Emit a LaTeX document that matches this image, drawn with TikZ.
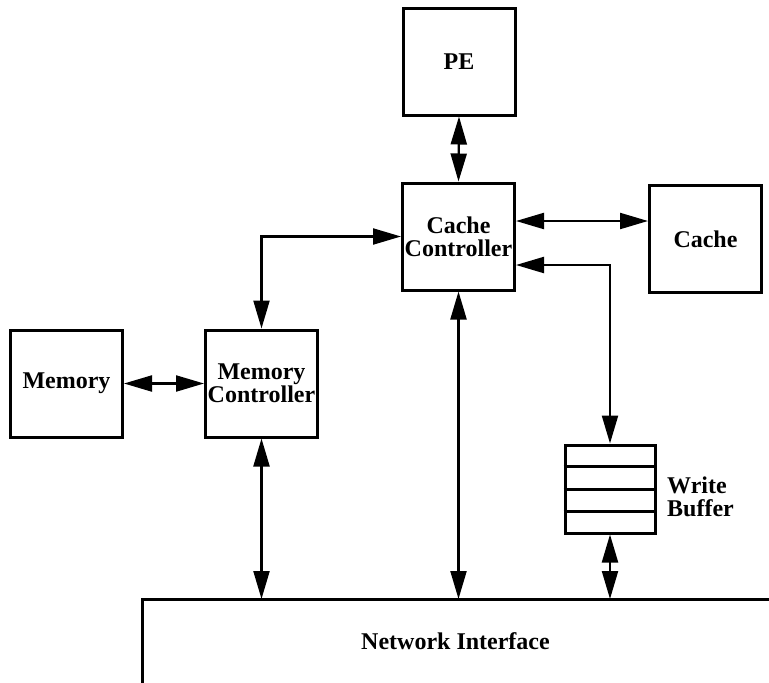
\documentclass[tikz,border=0pt]{standalone}
\usepackage{fontspec}
\setmainfont{Liberation Serif}
\usetikzlibrary{arrows.meta,calc}
\begin{document}
\begin{tikzpicture}[x=1pt,y=-1pt,
  lbl/.style={font=\fontsize{24}{23}\selectfont\bfseries},
  box/.style={draw,line width=3pt,minimum width=112pt,minimum height=107pt,inner sep=0pt,align=center,lbl},
  link/.style={line width=2.2pt,{Triangle[length=28pt,width=16pt]}-{Triangle[length=28pt,width=16pt]}},
  ]
\useasboundingbox (0,0) rectangle (769,683);
\node[box] (pe) at (459,61.5) {PE};
\node[box] (cc) at (458.5,236.5) {Cache\\Controller};
\node[box] (cache) at (705.5,239) {Cache};
\node[box] (mem) at (66.5,383.5) {Memory};
\node[box] (mc) at (261.5,383.5) {Memory\\Controller};
\node[draw,line width=3pt,minimum width=90pt,minimum height=88pt,inner sep=0pt] (wb) at (610,489) {};
\foreach \f in {0.25,0.5,0.75}
  \draw[line width=3pt] ($(wb.north west)!\f!(wb.south west)$) -- ($(wb.north east)!\f!(wb.south east)$);
\node[lbl,anchor=base west,inner sep=0pt] (wbl1) at (667,493) {Write};
\node[lbl,anchor=base west,inner sep=0pt] (wbl2) at (667,516) {Buffer};
\node[lbl,minimum width=627pt,minimum height=84pt,anchor=north west,inner sep=0pt,outer sep=0pt] (ni) at (142,599) {Network Interface};
\draw[line width=3pt] (ni.south west) -- (ni.north west) -- ([xshift=5pt]ni.north east);
\path ([yshift=15.5pt]cc.east) coordinate (a1);
\path ([yshift=-28.5pt]cc.east) coordinate (a2);
\draw[link] (pe.south) -- (cc.north);
\draw[link] (a1) -- (a1 -| cache.west);
\draw[link] (wb.north) |- (a2);
\draw[link] (mc.north) |- (cc.west);
\draw[link] (mem.east) -- (mc.west);
\draw[link] (mc.south) -- (mc.south |- ni.north);
\draw[link] (cc.south) -- (cc.south |- ni.north);
\draw[link] (wb.south) -- (wb.south |- ni.north);
\end{tikzpicture}
\end{document}
